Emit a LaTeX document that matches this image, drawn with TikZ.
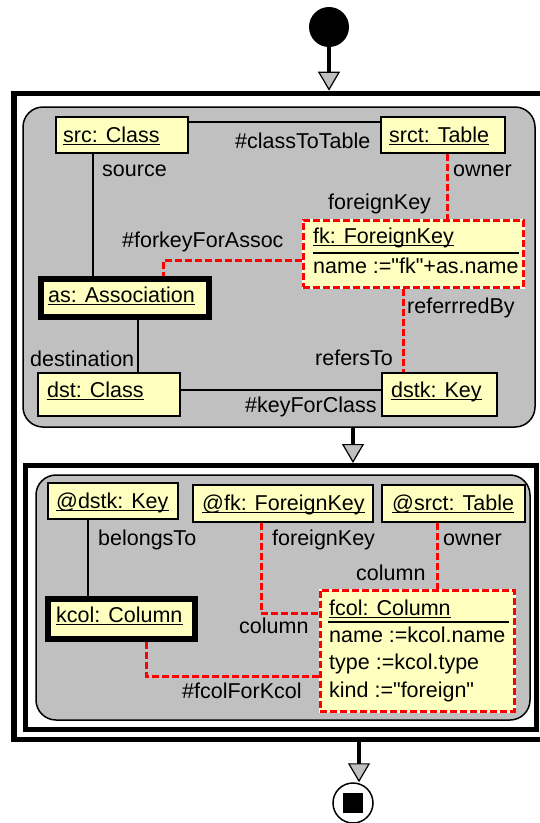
\documentclass[tikz,border=0pt]{standalone}
\usepackage{fontspec}
\setmainfont{Liberation Sans}[Ligatures=TeXOff]
\usetikzlibrary{arrows.meta}
\pgfdeclarelayer{back}
\pgfdeclarelayer{mid}
\pgfsetlayers{back,mid,main}
\definecolor{stategray}{RGB}{192,192,192}
\definecolor{objyellow}{RGB}{255,255,192}

\tikzset{
  frame/.style={draw=black, line width=5.5pt, inner sep=0pt},
  statebox/.style={draw=black, fill=stategray, line width=1.5pt, rounded corners=20pt, inner sep=0pt},
  obj/.style={draw=black, fill=objyellow, line width=2pt, inner sep=0pt},
  boundobj/.style={draw=black, fill=objyellow, line width=6pt, inner sep=0pt},
  newobj/.style={draw=red, fill=objyellow, line width=3pt, dash pattern=on 7pt off 3pt,
                 preaction={draw=white, solid}, inner sep=0pt},
  link/.style={draw=black, line width=1.5pt},
  newlink/.style={draw=red, line width=3pt, dash pattern=on 7pt off 3pt},
  txt/.style={inner sep=0pt, anchor=base west},
  uline/.style={line width=1.5pt},
  compsep/.style={line width=2pt},
  flow/.style={line width=4pt, -{Triangle[length=19pt, width=22pt, fill=stategray, line width=1.2pt]}},
}

% underlined object name: node name, base-west position, text
\newcommand\objname[3]{%
  \node[txt] (#1) at (#2) {#3};
  \draw[uline] ([yshift=-2.5pt]#1.base west) -- ([yshift=-2.5pt]#1.base east);}

\begin{document}
\begin{tikzpicture}[x=1pt, y=-1pt, font=\fontsize{21.5}{26}\selectfont]
\useasboundingbox (0,0) rectangle (539,823);

% activity frames and the two story-pattern states
\begin{pgfonlayer}{back}
  \node[frame, minimum width=531pt, minimum height=646pt] (fr1) at (279.5,416.4) {};
  \node[statebox, minimum width=512pt, minimum height=320pt] (st1) at (279,267) {};
  \node[frame, line width=5pt, minimum width=510.7pt, minimum height=263.5pt] (fr2) at (281.15,597.25) {};
  \node[statebox, minimum width=494pt, minimum height=245pt] (st2) at (283,597.5) {};
\end{pgfonlayer}

% start and stop
\node[circle, fill=black, minimum size=40pt, inner sep=0pt] (start) at (329,27) {};
\node[circle, draw=black, fill=white, line width=1.5pt, minimum size=40pt, inner sep=0pt] (fin) at (353,803) {};
\node[fill=black, minimum size=20pt, inner sep=0pt] (finmark) at (fin.center) {};

% helper positions for connector routing
\coordinate (xA) at (353,0);
\coordinate (xF) at (359,0);

\draw[flow] (start.south) -- (start.south |- fr1.north);
\draw[flow] (st1.south -| xA) -- (fr2.north -| xA);
\draw[flow] (fr1.south -| xF) -- (fin.north -| xF);

% ---------- first state: objects ----------
\node[obj, minimum width=132pt, minimum height=36pt] (src) at (122,135) {};
\node[obj, minimum width=124pt, minimum height=36pt] (srct) at (443,135) {};
\node[newobj, minimum width=220pt, minimum height=67pt] (fk) at (413,253.5) {};
\node[boundobj, minimum width=168pt, minimum height=38pt] (as) at (125,298) {};
\node[obj, minimum width=142pt, minimum height=43pt] (dst) at (109,394.5) {};
\node[obj, minimum width=115pt, minimum height=43pt] (dstk) at (439.5,394.5) {};

\objname{srcT}{63,142}{src: Class}
\objname{srctT}{389,142}{srct: Table}
\objname{fkT}{313,243}{fk: ForeignKey}
\draw[compsep] (313,253) -- (519,253);
\node[txt] (fkA) at (313,273) {name :="fk"+as.name};
\objname{asT}{48,302}{as: Association}
\objname{dstT}{47,397}{dst: Class}
\objname{dstkT}{391,397}{dstk: Key}

% ---------- first state: links ----------
\coordinate (yCT) at (0,122);
\coordinate (yKC) at (0,390);
\coordinate (yFA) at (0,260);
\coordinate (xSrc) at (93,0);
\coordinate (xDst) at (138,0);
\coordinate (xOwn) at (447,0);
\coordinate (xRef) at (403,0);
\coordinate (xFA) at (163,0);
\begin{pgfonlayer}{mid}
  \draw[link] (src.east |- yCT) -- (srct.west |- yCT);
  \draw[link] (src.south -| xSrc) -- (as.north -| xSrc);
  \draw[link] (as.south -| xDst) -- (dst.north -| xDst);
  \draw[link] (dst.east |- yKC) -- (dstk.west |- yKC);
  \draw[newlink] (srct.south -| xOwn) -- (fk.north -| xOwn);
  \draw[newlink] (fk.south -| xRef) -- (dstk.north -| xRef);
  \draw[newlink] (fk.west |- yFA) -| (as.north -| xFA);
\end{pgfonlayer}

\node[txt] (l1) at (235,148) {\#classToTable};
\node[txt] (l2) at (102,176) {source};
\node[txt] (l3) at (453,176) {owner};
\node[txt] (l4) at (328,209) {foreignKey};
\node[txt] (l5) at (122,247) {\#forkeyForAssoc};
\node[txt] (l6) at (407,313) {referrredBy};
\node[txt] (l7) at (315,365) {refersTo};
\node[txt] (l8) at (30,366) {destination};
\node[txt] (l9) at (245,412) {\#keyForClass};

% ---------- second state: objects ----------
\node[obj, minimum width=130pt, minimum height=36pt] (udstk) at (113,501) {};
\node[obj, minimum width=180pt, minimum height=37pt] (ufk) at (283,503.5) {};
\node[obj, minimum width=143pt, minimum height=37pt] (usrct) at (453.5,503.5) {};
\node[boundobj, minimum width=147pt, minimum height=40pt] (kcol) at (121.5,619) {};
\node[newobj, minimum width=194pt, minimum height=121pt] (fcol) at (417,650.5) {};

\objname{udstkT}{56,508}{@dstk: Key}
\objname{ufkT}{202,510}{@fk: ForeignKey}
\objname{usrctT}{392,510}{@srct: Table}
\objname{kcolT}{56,622}{kcol: Column}
\objname{fcolT}{329,615}{fcol: Column}
\draw[compsep] (328,622) -- (509,622);
\node[txt] (fcolA1) at (329,642) {name :=kcol.name};
\node[txt] (fcolA2) at (329,669) {type :=kcol.type};
\node[txt] (fcolA3) at (329,697) {kind :="foreign"};

% ---------- second state: links ----------
\coordinate (xBel) at (88,0);
\coordinate (xFK) at (261,0);
\coordinate (yFK) at (0,613);
\coordinate (xOw2) at (437,0);
\coordinate (xKc) at (146,0);
\coordinate (yKc) at (0,676);
\begin{pgfonlayer}{mid}
  \draw[link] (udstk.south -| xBel) -- (kcol.north -| xBel);
  \draw[newlink] (ufk.south -| xFK) |- (fcol.west |- yFK);
  \draw[newlink] (usrct.south -| xOw2) -- (fcol.north -| xOw2);
  \draw[newlink] (kcol.south -| xKc) |- (fcol.west |- yKc);
\end{pgfonlayer}

\node[txt] (m1) at (98,545) {belongsTo};
\node[txt] (m2) at (272,545) {foreignKey};
\node[txt] (m3) at (443,545) {owner};
\node[txt] (m4) at (356,580) {column};
\node[txt] (m5) at (239,633) {column};
\node[txt] (m6) at (182,698) {\#fcolForKcol};
\end{tikzpicture}
\end{document}
